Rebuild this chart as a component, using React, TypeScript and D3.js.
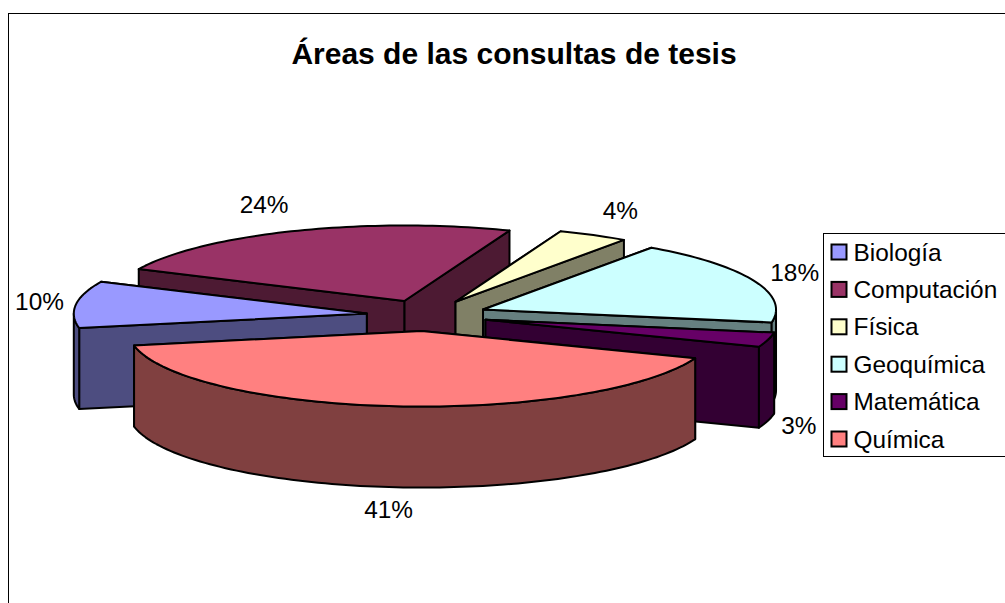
import * as d3 from "d3";
import React from "react";

const categories = ["Biología", "Computación", "Física", "Geoquímica", "Matemática", "Química"];
// shares, labels show them rounded
const shares = [10, 23.9, 3.9, 18, 3.1, 41.1];
const colors = ["#9999FF", "#993366", "#FFFFCC", "#CCFFFF", "#660066", "#FF8080"];

// label nudge from the rim point of each slice
const labelNudge = [[-36.5, -3], [-30.5, -26], [27, -25], [41, -8], [31, 86], [-7.5, 103]];

const W = 1005;
const H = 603;
const cx = 427;
const cy = 315.5;
const rx = 293;
const ry = 75.5;
const depth = 81;
const explode = 0.207;
const rotation = (259 * Math.PI) / 180;
const font = "'Liberation Sans', Arial, sans-serif";

const pie = d3
  .pie<number>()
  .sort(null)
  .startAngle(rotation)
  .endAngle(rotation + 2 * Math.PI);

const line = d3.line<[number, number]>().curve(d3.curveLinear);

function App() {
  const arcs = pie(shares);

  const slices = arcs.map((a, i) => {
    const mid = (a.startAngle + a.endAngle) / 2;
    const ox = cx + explode * rx * Math.sin(mid);
    const oy = cy - explode * ry * Math.cos(mid);
    const rim = (t: number, dy = 0): [number, number] => [
      ox + rx * Math.sin(t),
      oy - ry * Math.cos(t) + dy,
    ];
    const sample = (t0: number, t1: number) => {
      const n = Math.max(2, Math.ceil(Math.abs(t1 - t0) * 40));
      return d3.range(n + 1).map((k) => t0 + ((t1 - t0) * k) / n);
    };

    const top = line([[ox, oy], ...sample(a.startAngle, a.endAngle).map((t) => rim(t))]) + "Z";

    const cut = (t: number) => ({
      y: rim(t)[1],
      d: line([[ox, oy], rim(t), rim(t, depth), [ox, oy + depth]]) + "Z",
    });
    const cuts = [cut(a.startAngle), cut(a.endAngle)].sort((p, q) => p.y - q.y);

    // only the front half of the rim wall can be seen
    const walls: string[] = [];
    const full = Math.PI * 2;
    [0, full].forEach((shift) => {
      const from = Math.max(a.startAngle, Math.PI / 2 + shift);
      const to = Math.min(a.endAngle, (3 * Math.PI) / 2 + shift);
      if (to > from) {
        const ts = sample(from, to);
        walls.push(
          line([...ts.map((t) => rim(t)), ...ts.slice().reverse().map((t) => rim(t, depth))]) + "Z"
        );
      }
    });

    const base = d3.rgb(colors[i]);
    const dark = d3.rgb(base.r / 2, base.g / 2, base.b / 2).formatHex();
    return { i, mid, top, cuts, walls, dark, rimMid: rim(mid) };
  });

  const order = slices.slice().sort((p, q) => Math.cos(q.mid) - Math.cos(p.mid));

  const legendY = d3
    .scalePoint<string>()
    .domain(categories)
    .range([252.5, 439.5]);

  return (
    <svg
      width={W}
      height={H}
      style={{ position: "absolute", left: 0, top: 0, background: "#fff" }}
      fontFamily={font}
    >
      <rect x={8.5} y={13.5} width={W + 20} height={H + 20} fill="#fff" stroke="#000" />
      <text x={514} y={64} textAnchor="middle" fontSize={30} fontWeight="bold">
        Áreas de las consultas de tesis
      </text>

      {order.map((s) => (
        <g key={s.i} stroke="#000" strokeWidth={2} strokeLinejoin="round">
          {s.cuts.map((c, k) => (
            <path key={k} d={c.d} fill={s.dark} />
          ))}
          {s.walls.map((d, k) => (
            <path key={k} d={d} fill={s.dark} />
          ))}
          <path d={s.top} fill={colors[s.i]} />
        </g>
      ))}

      {slices.map((s) => (
        <text
          key={s.i}
          x={s.rimMid[0] + labelNudge[s.i][0]}
          y={s.rimMid[1] + labelNudge[s.i][1] + 8.5}
          textAnchor="middle"
          fontSize={24.4}
        >
          {Math.round(shares[s.i])}%
        </text>
      ))}

      <rect x={823.5} y={233.5} width={W} height={223} fill="#fff" stroke="#000" />
      {categories.map((c, i) => (
        <g key={c}>
          <rect
            x={831.5}
            y={legendY(c)! - 8}
            width={15}
            height={15}
            fill={colors[i]}
            stroke="#000"
            strokeWidth={2}
          />
          <text x={853.5} y={legendY(c)! + 8} fontSize={24.4}>
            {c}
          </text>
        </g>
      ))}
    </svg>
  );
}

export default App;
